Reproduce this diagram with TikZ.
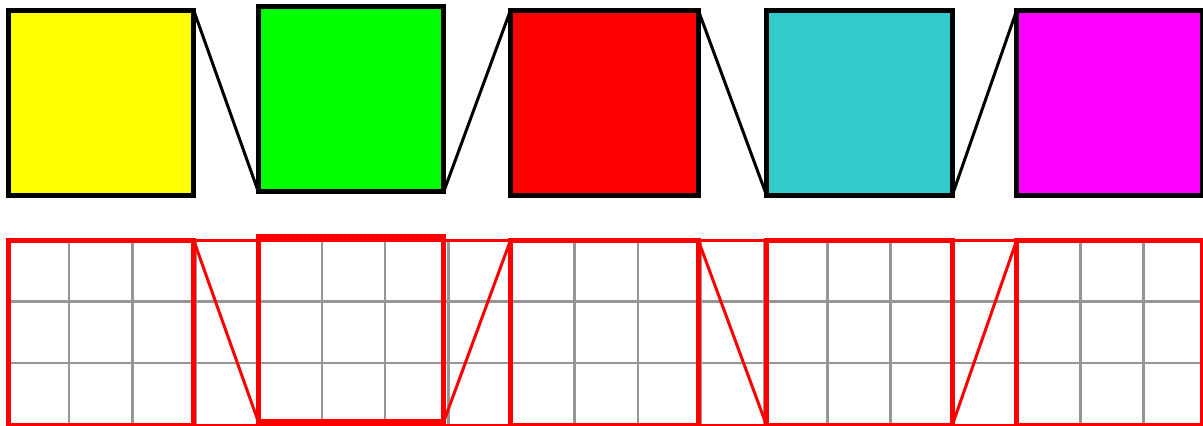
\documentclass[tikz,border=0pt]{standalone}
\definecolor{yel}{RGB}{255,255,0}
\definecolor{grn}{RGB}{0,255,0}
\definecolor{rd}{RGB}{255,0,0}
\definecolor{cyn}{RGB}{51,204,204}
\definecolor{mag}{RGB}{255,0,255}
\definecolor{gridgray}{RGB}{150,150,150}
\begin{document}
\begin{tikzpicture}[x=1pt, y=-1pt, node distance=250pt,
    sq/.style={draw=black, line width=5.2pt, minimum width=185.4pt, minimum height=185.4pt, inner sep=0pt, outer sep=0pt},
    sqrim/.style={sq, draw=rd, below of=#1, node distance=230pt},
    conn/.style={line width=3pt}]
    \useasboundingbox (0,0) rectangle (1203,426);

    % Grid
    \begin{scope}
        \clip (8,240.3) rectangle (1203,425.7);
        \foreach \i in {0,...,18}
            \draw[gridgray, line width=2.6pt] (5.8+63.2*\i,238) -- (5.8+63.2*\i,426);
        \foreach \j in {301.3,363}
            \draw[gridgray, line width=2.6pt] (8,\j) -- (1203,\j);
    \end{scope}

    % Nodes
    \node[sq, fill=yel] (Y) at (101,103) {};
    \node[sq, fill=grn, right of=Y, yshift=4pt] (G) {};
    \node[sq, fill=rd, right of=G, node distance=253.4pt, yshift=-4pt, minimum width=187.8pt] (R) {};
    \node[sq, fill=cyn, right of=R, node distance=255pt] (C) {};
    \node[sq, fill=mag, right of=C] (M) {};

    \node[sqrim=Y] (Yb) {};
    \node[sqrim=G] (Gb) {};
    \node[sqrim=R, minimum width=187.8pt] (Rb) {};
    \node[sqrim=C] (Cb) {};
    \node[sqrim=M] (Mb) {};

    % Edges
    \draw[conn] (Y.north east) -- (G.south west);
    \draw[conn] (G.south east) -- (R.north west);
    \draw[conn] (R.north east) -- (C.south west);
    \draw[conn] (C.south east) -- (M.north west);

    \draw[conn, rd] (Yb.north west) rectangle (Mb.south east);
    \draw[conn, rd] (Yb.north east) -- (Gb.south west);
    \draw[conn, rd] (Gb.south east) -- (Rb.north west);
    \draw[conn, rd] (Rb.north east) -- (Cb.south west);
    \draw[conn, rd] (Cb.south east) -- (Mb.north west);
\end{tikzpicture}
\end{document}
